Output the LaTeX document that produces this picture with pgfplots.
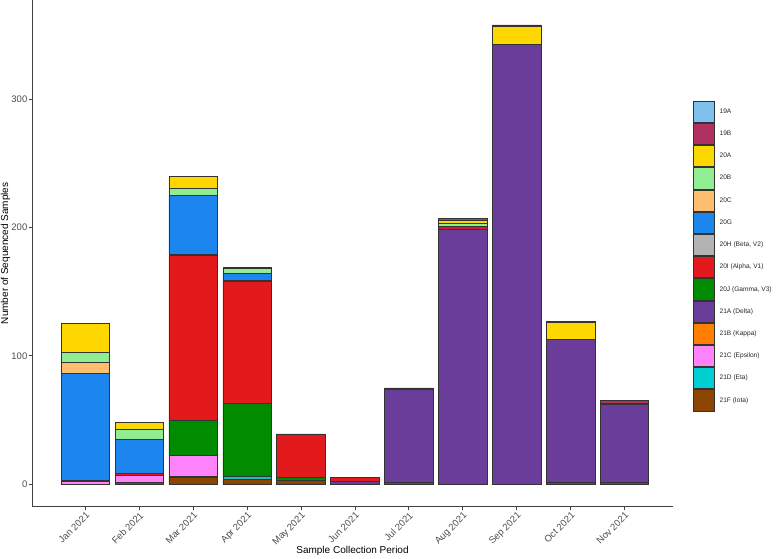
\documentclass[border=0pt]{standalone}
\usepackage{fontspec}
\setmainfont{Liberation Sans}
\usepackage{pgfplots}
\pgfplotsset{compat=1.18}
\usepackage{pgfplotstable}

\definecolor{c19A}{HTML}{7EC0EE}
\definecolor{c19B}{HTML}{B03060}
\definecolor{c20A}{HTML}{FFD700}
\definecolor{c20B}{HTML}{90EE90}
\definecolor{c20C}{HTML}{FDBF6F}
\definecolor{c20G}{HTML}{1C86EE}
\definecolor{c20H}{HTML}{B3B3B3}
\definecolor{c20I}{HTML}{E31A1C}
\definecolor{c20J}{HTML}{008B00}
\definecolor{c21A}{HTML}{6A3D9A}
\definecolor{c21B}{HTML}{FF7F00}
\definecolor{c21C}{HTML}{FF83FA}
\definecolor{c21D}{HTML}{00CED1}
\definecolor{c21F}{HTML}{8B4500}
\definecolor{tickgray}{HTML}{4D4D4D}

\pgfplotstableread{
x  F21 D21 C21 B21 A21 J20 I20 H20 G20 C20 B20 A20 B19 A19
0  0   0   2   0   1   0   0   0   83  9   8   22  0   0
1  1   0   6   0   0   0   1   0   27  0   8   5   0   0
2  5   1   16  0   0   28  128 1   46  0   6   9   0   0
3  4   2   0   0   0   57  95  1   5   0   4   1   0   0
4  3   0   0   0   0   2   34  0   0   0   0   0   0   0
5  0   0   0   0   2   0   3   0   0   0   0   0   0   0
6  1   0   0   0   73  1   0   0   0   0   0   0   0   0
7  0   0   0   0   199 0   2   0   0   0   2   3   1   0
8  0   0   0   0   343 0   0   0   0   0   0   14  1   0
9  1   0   0   0   112 0   0   0   0   0   0   13  1   0
10 1   0   0   0   61  0   1   0   0   0   0   0   2   0
}\datatable

\begin{document}
\begin{tikzpicture}
\begin{axis}[
  scale only axis,
  width=641pt, height=506.7pt,
  ybar stacked,
  bar width=0.9,
  xmin=-0.99, xmax=10.9,
  ymin=-17.7, ymax=377.5,
  axis x line*=bottom, axis y line*=left,
  axis line style={black!75, line width=0.9pt, -},
  tick style={black!75, line width=0.7pt},
  tick align=outside,
  major tick length=3pt,
  xtick={0,...,10},
  xticklabels={Jan 2021,Feb 2021,Mar 2021,Apr 2021,May 2021,Jun 2021,Jul 2021,Aug 2021,Sep 2021,Oct 2021,Nov 2021},
  ytick={0,100,200,300},
  /pgf/number format/assume math mode=true,
  ticklabel style={font=\fontsize{9.5}{11}\selectfont, text=tickgray},
  xticklabel style={rotate=45, anchor=north east, inner sep=1pt},
  yticklabel style={inner sep=1.5pt},
  xlabel={Sample Collection Period},
  ylabel={Number of Sequenced Samples},
  label style={font=\fontsize{9.4}{11}\selectfont},
  every axis x label/.style={at={(axis description cs:0.5,0)}, yshift=-44.3pt, anchor=center},
  every axis y label/.style={at={(axis description cs:0,0.5)}, xshift=-26.5pt, rotate=90, anchor=center},
  every axis plot/.append style={draw=black!80, line width=0.6pt},
  every axis plot post/.append style={
    legend image code/.code={\draw[##1, draw=black!80, line width=0.8pt] (0pt,-10.65pt) rectangle (21.3pt,10.65pt);}
  },
  reverse legend,
  legend style={
    at={(1.0301,0.8015)}, anchor=north west,
    draw=none, fill=none, inner sep=0pt,
    row sep=0.1pt,
    cells={anchor=west},
    nodes={inner xsep=5pt, inner ysep=0pt, font=\fontsize{6.6}{8}\selectfont, text=black!85},
  },
]
\addplot[fill=c21F] table[x=x,y=F21]{\datatable};
\addplot[fill=c21D] table[x=x,y=D21]{\datatable};
\addplot[fill=c21C] table[x=x,y=C21]{\datatable};
\addplot[fill=c21B] table[x=x,y=B21]{\datatable};
\addplot[fill=c21A] table[x=x,y=A21]{\datatable};
\addplot[fill=c20J] table[x=x,y=J20]{\datatable};
\addplot[fill=c20I] table[x=x,y=I20]{\datatable};
\addplot[fill=c20H] table[x=x,y=H20]{\datatable};
\addplot[fill=c20G] table[x=x,y=G20]{\datatable};
\addplot[fill=c20C] table[x=x,y=C20]{\datatable};
\addplot[fill=c20B] table[x=x,y=B20]{\datatable};
\addplot[fill=c20A] table[x=x,y=A20]{\datatable};
\addplot[fill=c19B] table[x=x,y=B19]{\datatable};
\addplot[fill=c19A] table[x=x,y=A19]{\datatable};
\legend{21F (Iota),21D (Eta),21C (Epsilon),21B (Kappa),21A (Delta),20J (Gamma{,} V3),20I (Alpha{,} V1),20H (Beta{,} V2),20G,20C,20B,20A,19B,19A}
\end{axis}
\pgfresetboundingbox
\path[use as bounding box] (-32pt,-52.3pt) rectangle (748pt,506.7pt);
\end{tikzpicture}
\end{document}
